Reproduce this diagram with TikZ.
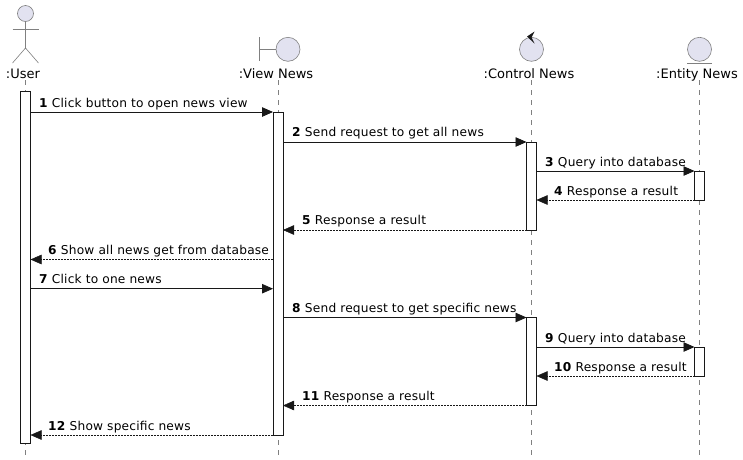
\documentclass[tikz,border=0pt]{standalone}
\usepackage{fontspec}
\setmainfont{DejaVu Sans}
\newfontfamily\msgfont[LetterSpace=1.6]{DejaVu Sans}
\usetikzlibrary{arrows.meta}
\definecolor{ink}{HTML}{181818}
\definecolor{lilac}{HTML}{E2E2F0}
\definecolor{shapeline}{HTML}{808080}
\tikzset{
  lifeline/.style={draw=shapeline,line width=0.5pt,dash pattern=on 5pt off 5pt},
  bar/.style={draw=ink,fill=white,line width=0.8pt,minimum width=10pt,inner sep=0pt,outer sep=0pt},
  icon/.style={draw=shapeline,fill=lilac,line width=0.6pt},
  iconline/.style={draw=shapeline,line width=0.6pt},
  call/.style={draw=ink,line width=0.8pt,-{Triangle[length=11pt,width=9.5pt]}},
  reply/.style={draw=ink,line width=0.5pt,dash pattern=on 1.6pt off 1.4pt,-{Triangle[length=11pt,width=9.5pt]}},
  title/.style={font=\fontsize{13}{15}\selectfont,text=black,inner sep=0pt,anchor=base},
  msglabel/.style={font=\msgfont\fontsize{12.2}{14}\selectfont,text=black,inner sep=0pt,anchor=base west},
}
\begin{document}
\begin{tikzpicture}[x=1pt,y=-1pt]
\useasboundingbox[fill=white] (0,0) rectangle (743,459);
% lifelines
\coordinate (ut) at (25.5,80); \coordinate (ub) at (25.5,455);
\coordinate (vt) at (278,80);  \coordinate (vb) at (278,455);
\coordinate (ct) at (531.5,80);\coordinate (cb) at (531.5,455);
\coordinate (et) at (699.5,80);\coordinate (eb) at (699.5,455);
\draw[lifeline] (ut) -- (ub);
\draw[lifeline] (vt) -- (vb);
\draw[lifeline] (ct) -- (cb);
\draw[lifeline] (et) -- (eb);
% actor
\node[icon,circle,minimum size=16pt,inner sep=0pt] (uhead) at (25.5,13.5) {};
\coordinate (uhip) at (25.5,48);
\draw[iconline] (uhead.south) -- (uhip);
\draw[iconline] (12.5,29) -- (38.5,29);
\draw[iconline] (12.5,63) -- (uhip) -- (38.5,63);
% boundary
\node[icon,circle,minimum size=24pt,inner sep=0pt] (vicon) at (288,49.3) {};
\coordinate (vbar) at (259,49.3);
\draw[iconline] (259,37) -- (259,61);
\draw[iconline] (vbar) -- (vicon.west);
% control
\node[icon,circle,minimum size=24pt,inner sep=0pt] (cicon) at (531.5,49.3) {};
\fill[ink] (527,36.5) -- (534.5,31.5) -- (531.5,37.5) -- (534.5,43.5) -- cycle;
% entity
\node[icon,circle,minimum size=24pt,inner sep=0pt] (eicon) at (699.5,49.3) {};
\draw[iconline] (687,63) -- (712,63);
% titles
\node[title] (tu) at (23,78.5) {:User};
\node[title] (tv) at (276,78.5) {:View News};
\node[title] (tc) at (529,78.5) {:Control News};
\node[title] (te) at (697,78.5) {:Entity News};
% activations
\node[bar,minimum height=352pt] (u1) at (25.5,267) {};
\node[bar,minimum height=323pt] (v1) at (278,273.5) {};
\node[bar,minimum height=88pt] (c1) at (531.5,186) {};
\node[bar,minimum height=88pt] (c2) at (531.5,361.5) {};
\node[bar,minimum height=29pt] (e1) at (699.5,185.5) {};
\node[bar,minimum height=29pt] (e2) at (699.5,361.5) {};
% messages
\draw[call]  (u1.east |- v1.north) -- (v1.north west);
\draw[call]  (v1.east |- c1.north) -- (c1.north west);
\draw[call]  (c1.east |- e1.north) -- (e1.north west);
\draw[reply] (e1.south west) -- (c1.east |- e1.south);
\draw[reply] (c1.south west) -- (v1.east |- c1.south);
\coordinate (m6) at (278,259.5);
\draw[reply] (v1.west |- m6) -- (u1.east |- m6);
\coordinate (m7) at (278,288.7);
\draw[call]  (u1.east |- m7) -- (v1.west |- m7);
\draw[call]  (v1.east |- c2.north) -- (c2.north west);
\draw[call]  (c2.east |- e2.north) -- (e2.north west);
\draw[reply] (e2.south west) -- (c2.east |- e2.south);
\draw[reply] (c2.south west) -- (v1.east |- c2.south);
\draw[reply] (v1.south west) -- (u1.east |- v1.south);
% labels
\node[msglabel] (l1) at (39,107) {\textbf{1} Click button to open news view};
\node[msglabel] (l2) at (292,136.5) {\textbf{2} Send request to get all news};
\node[msglabel] (l3) at (545,166) {\textbf{3} Query into database};
\node[msglabel] (l4) at (554,195) {\textbf{4} Response a result};
\node[msglabel] (l5) at (302,224.5) {\textbf{5} Response a result};
\node[msglabel] (l6) at (48,254) {\textbf{6} Show all news get from database};
\node[msglabel] (l7) at (39,283.5) {\textbf{7} Click to one news};
\node[msglabel] (l8) at (292,312.5) {\textbf{8} Send request to get specific news};
\node[msglabel] (l9) at (545,342) {\textbf{9} Query into database};
\node[msglabel] (l10) at (554,371) {\textbf{10} Response a result};
\node[msglabel] (l11) at (302,400) {\textbf{11} Response a result};
\node[msglabel] (l12) at (48,430) {\textbf{12} Show specific news};
\end{tikzpicture}
\end{document}
